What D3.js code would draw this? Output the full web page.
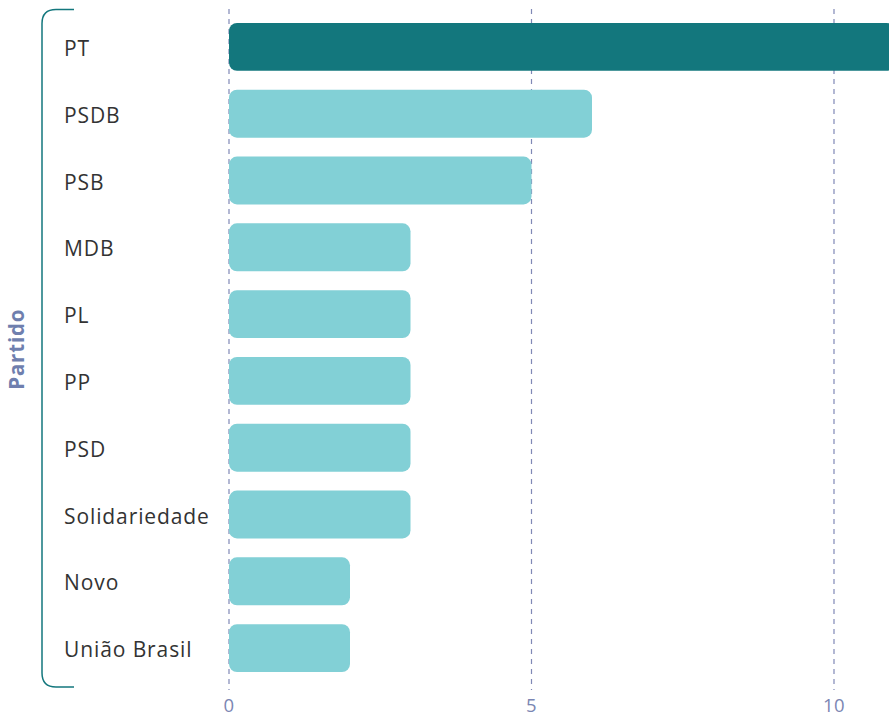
<!DOCTYPE html>
<html>
<head>
<meta charset="utf-8">
<script src="https://cdn.jsdelivr.net/npm/d3@7"></script>
<style>
  body { margin: 0; background: #fff; }
  svg { display: block; }
</style>
</head>
<body>
<div id="chart"></div>
<script>
const width = 889;
const height = 716;

// partidos e valores
const parties = ["PT", "PSDB", "PSB", "MDB", "PL", "PP", "PSD", "Solidariedade", "Novo", "União Brasil"];
const counts = [11, 6, 5, 3, 3, 3, 3, 3, 2, 2];
const highlight = ["PT"];
const xTicks = [0, 5, 10];

const data = parties.map((p, i) => ({ party: p, value: counts[i] }));

const svg = d3.select("#chart").append("svg")
  .attr("width", width)
  .attr("height", height)
  .attr("viewBox", [0, 0, width, height]);

const x = d3.scaleLinear().domain([0, 10]).range([229, 834]);

// y band: bars 48px tall, 67px step
const y = d3.scaleBand()
  .domain(parties)
  .range([12.5, 682.5])
  .paddingInner(19 / 67)
  .paddingOuter(10.5 / 67);

// gridlines
svg.append("g")
  .selectAll("line")
  .data(xTicks)
  .join("line")
  .attr("x1", d => x(d))
  .attr("x2", d => x(d))
  .attr("y1", 9)
  .attr("y2", 690)
  .attr("stroke", "#8089b6")
  .attr("stroke-width", 1.2)
  .attr("stroke-dasharray", "5,5");

// tick labels
svg.append("g")
  .selectAll("text")
  .data(xTicks)
  .join("text")
  .attr("x", d => x(d))
  .attr("y", 712)
  .attr("text-anchor", "middle")
  .attr("font-family", "'Open Sans', sans-serif")
  .attr("font-size", 18.5)
  .attr("letter-spacing", 0.5)
  .attr("fill", "#7b86b3")
  .text(d => d);

// bars
svg.append("g")
  .selectAll("rect")
  .data(data)
  .join("rect")
  .attr("x", x(0))
  .attr("y", d => y(d.party))
  .attr("width", d => x(d.value) - x(0))
  .attr("height", y.bandwidth())
  .attr("rx", 8)
  .attr("fill", d => highlight.includes(d.party) ? "#13777d" : "#82d0d6");

// category labels
svg.append("g")
  .selectAll("text")
  .data(parties)
  .join("text")
  .attr("x", 64)
  .attr("y", d => y(d) + y.bandwidth() / 2 + 1.5)
  .attr("dy", "0.36em")
  .attr("font-family", "'Open Sans', sans-serif")
  .attr("font-size", 21)
  .attr("letter-spacing", 0.9)
  .attr("fill", "#333")
  .text(d => d);

// bracket
const r = 14;
svg.append("path")
  .attr("d", `M74,9.5 H${42 + r} Q42,9.5 42,${9.5 + r} V${687 - r} Q42,687 ${42 + r},687 H74`)
  .attr("fill", "none")
  .attr("stroke", "#13777d")
  .attr("stroke-width", 1.5);

// axis title
svg.append("text")
  .attr("transform", `translate(24,${(9.5 + 687) / 2 + 1}) rotate(-90)`)
  .attr("text-anchor", "middle")
  .attr("font-family", "'Open Sans', sans-serif")
  .attr("font-weight", "bold")
  .attr("font-size", 20.5)
  .attr("letter-spacing", 0.8)
  .attr("fill", "#6f7fae")
  .text("Partido");
</script>
</body>
</html>
